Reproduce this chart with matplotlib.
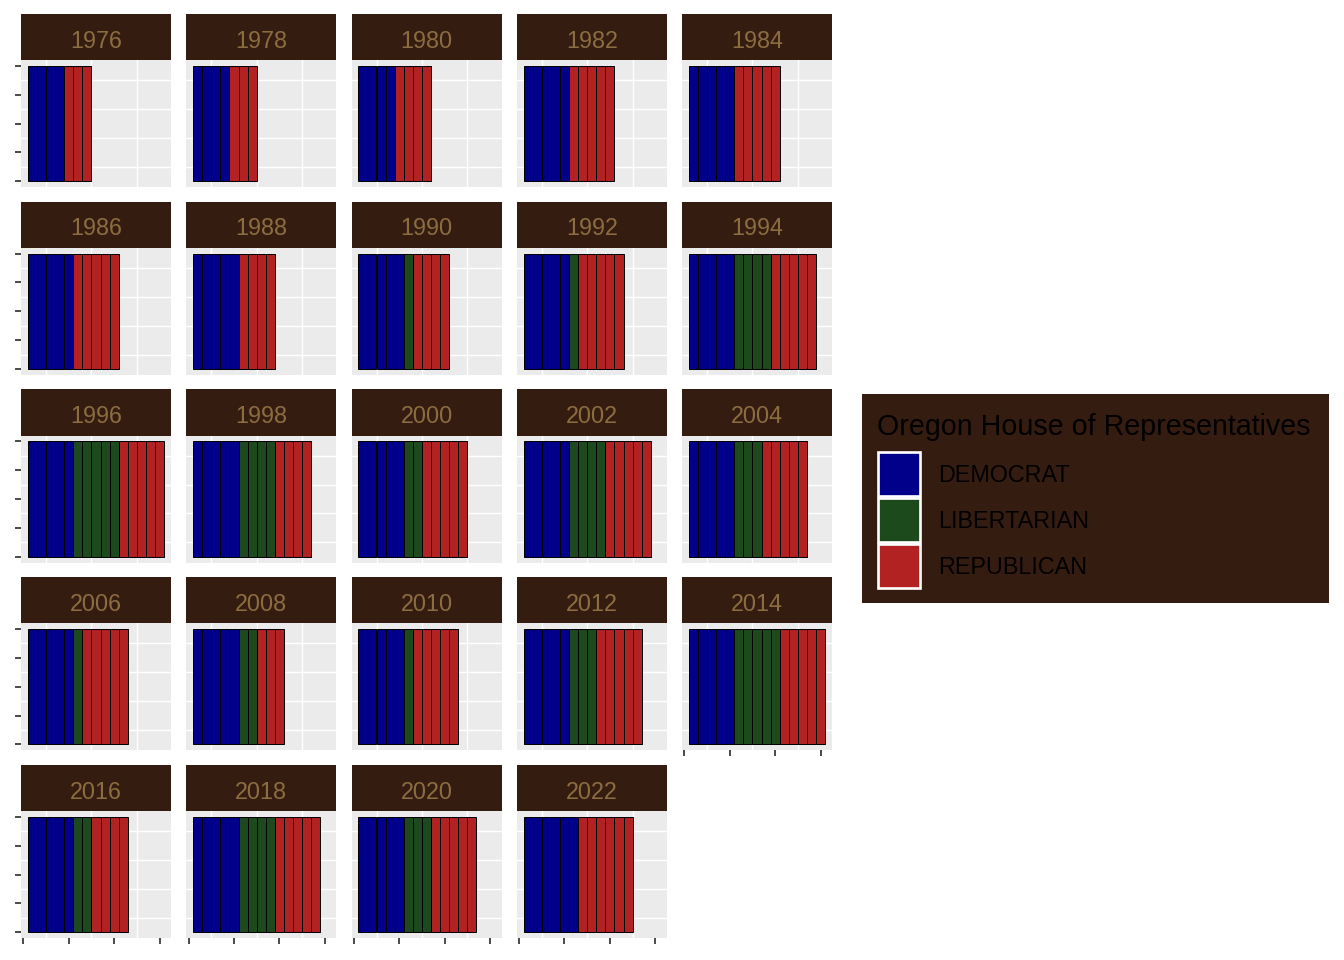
import matplotlib.pyplot as plt
from matplotlib.patches import Rectangle

years = [1976, 1978, 1980, 1982, 1984, 1986, 1988, 1990, 1992, 1994,
         1996, 1998, 2000, 2002, 2004, 2006, 2008, 2010, 2012, 2014,
         2016, 2018, 2020, 2022]
democrat = [4, 4, 4, 5, 5, 5, 5, 5, 5, 5, 5, 5, 5, 5, 5, 5, 5, 5, 5, 5, 5, 5, 5, 6]
libertarian = [0, 0, 0, 0, 0, 0, 0, 1, 1, 4, 5, 4, 2, 4, 3, 1, 2, 1, 3, 5, 2, 4, 3, 0]
republican = [3, 3, 4, 5, 5, 5, 4, 4, 5, 5, 5, 4, 5, 5, 5, 5, 3, 5, 5, 5, 4, 5, 5, 6]

parties = ['DEMOCRAT', 'LIBERTARIAN', 'REPUBLICAN']
colors = {'DEMOCRAT': '#00008B', 'LIBERTARIAN': '#1C4A1C', 'REPUBLICAN': '#B22222'}
strip_bg = '#351C11'
strip_fg = '#8C6D40'
W, H = 1344, 960

fig = plt.figure(figsize=(W / 96, H / 96), dpi=96)
fig.patch.set_facecolor('white')

ncol = 5
nyears = len(years)
for i, yr in enumerate(years):
    r, c = divmod(i, ncol)
    left = 21 + c * 165.25
    top = 14 + r * 187.75
    # strip
    sax = fig.add_axes([left / W, 1 - (top + 46) / H, 150 / W, 46 / H])
    sax.set_facecolor(strip_bg)
    sax.set_xticks([]); sax.set_yticks([])
    for s in sax.spines.values():
        s.set_visible(False)
    sax.text(0.5, 0.41, str(yr), ha='center', va='center', color=strip_fg,
             fontsize=17.5, family='Liberation Sans', transform=sax.transAxes)
    # panel
    ax = fig.add_axes([left / W, 1 - (top + 46 + 127) / H, 150 / W, 127 / H])
    ax.set_facecolor('#EBEBEB')
    for s in ax.spines.values():
        s.set_visible(False)
    seq = (['DEMOCRAT'] * democrat[i] + ['LIBERTARIAN'] * libertarian[i]
           + ['REPUBLICAN'] * republican[i])
    xs = list(range(1, len(seq) + 1))
    ax.bar(xs, [1] * len(seq), width=1, color=[colors[p] for p in seq],
           edgecolor='black', linewidth=0.75, zorder=3)
    ax.set_xlim(-0.25, 16.25)
    ax.set_ylim(-0.05, 1.05)
    ax.set_xticks([0, 5, 10, 15])
    ax.set_xticks([2.5, 7.5, 12.5], minor=True)
    ax.set_yticks([0, 0.25, 0.5, 0.75, 1])
    ax.set_yticks([0.125, 0.375, 0.625, 0.875], minor=True)
    ax.grid(False, which='major')
    ax.grid(True, which='minor', color='white', linewidth=1.1, zorder=0)
    ax.set_axisbelow(True)
    ax.tick_params(which='minor', length=0)
    ax.tick_params(which='major', labelbottom=False, labelleft=False,
                   color='#333333', length=4.5, width=1.3)
    show_x = (i + ncol >= nyears)
    show_y = (c == 0)
    ax.tick_params(axis='x', which='major', bottom=show_x)
    ax.tick_params(axis='y', which='major', left=show_y)

# legend box (pixel coordinates inside its own axes)
lax = fig.add_axes([862 / W, 1 - 603 / H, 467 / W, 209 / H])
lax.set_facecolor(strip_bg)
lax.set_xlim(0, 467)
lax.set_ylim(209, 0)
lax.set_xticks([]); lax.set_yticks([])
for s in lax.spines.values():
    s.set_visible(False)
lax.text(15, 33, 'Oregon House of Representatives', ha='left', va='center',
         fontsize=21.5, family='Liberation Sans', color='black')
for k, p in enumerate(parties):
    y0 = 58 + k * 46
    lax.add_patch(Rectangle((16, y0), 42, 44, facecolor=colors[p],
                            edgecolor='white', linewidth=2))
    lax.text(76, y0 + 24, p, ha='left', va='center', fontsize=17.5,
             family='Liberation Sans', color='black')

fig.savefig('out.png', dpi=96)
